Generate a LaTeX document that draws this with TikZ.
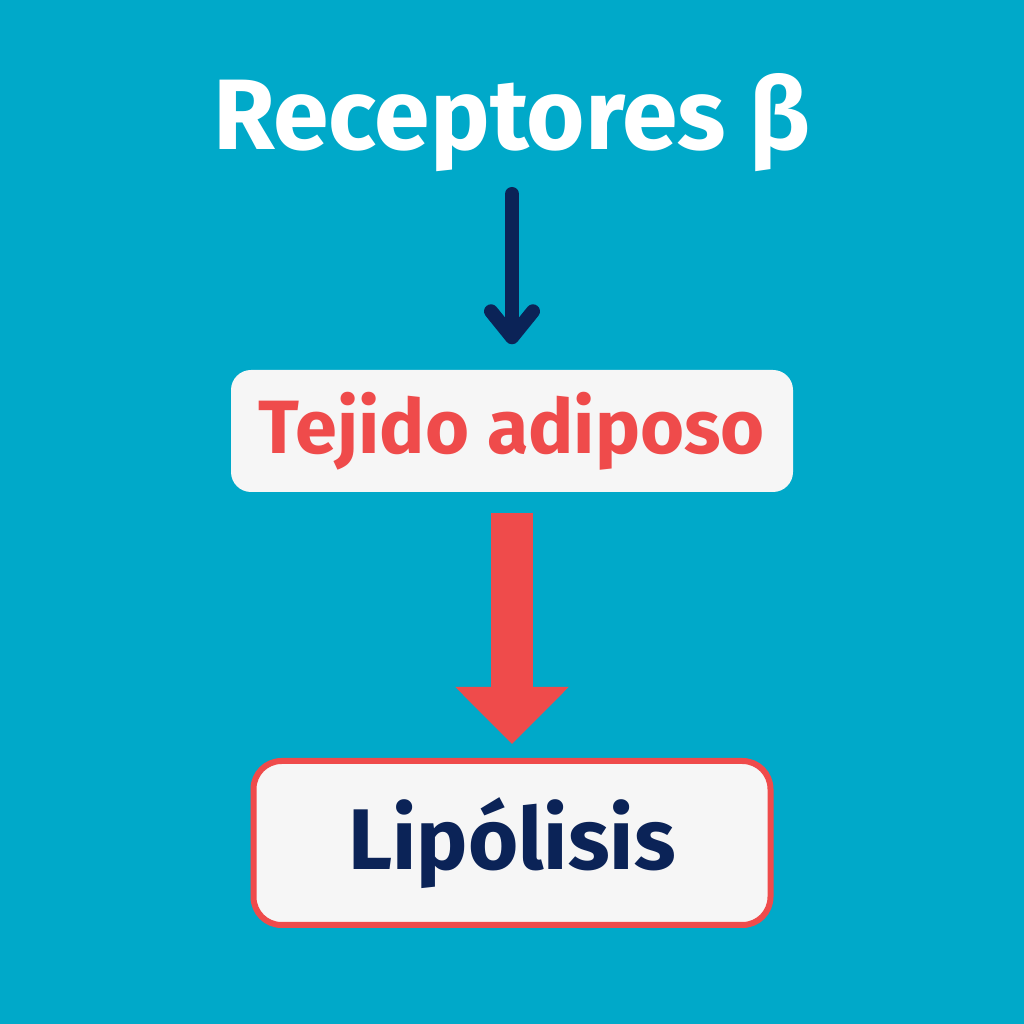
\documentclass[tikz,border=0pt]{standalone}
\usepackage{fontspec}
\setmainfont{Fira Sans}
\usetikzlibrary{arrows.meta}

\definecolor{bgteal}{HTML}{00A9C9}
\definecolor{navy}{HTML}{0B2357}
\definecolor{redtone}{HTML}{EF4B4B}
\definecolor{boxgray}{HTML}{F6F6F6}

\begin{document}
\begin{tikzpicture}[
  box/.style={rounded corners=0.2cm, fill=boxgray, inner sep=0pt},
  thin arrow/.style={navy, line width=0.14cm, line cap=round,
    -{Straight Barb[round, length=0.26cm, width=0.42cm]}},
  block arrow/.style={redtone, line width=0.42cm,
    -{Triangle[length=0.57cm, width=1.1cm]}}
]
\fill[bgteal] (0,0) rectangle (10.24,10.24);
\useasboundingbox (0,0) rectangle (10.24,10.24);
\node[anchor=south, inner sep=0pt, text depth=0pt, text=white,
  font=\fontsize{28.5}{34}\selectfont\bfseries] (title) at (5.12,8.74) {Receptores β};
\node[box, minimum width=5.62cm, minimum height=1.22cm, text=redtone,
  font=\fontsize{21.5}{26}\selectfont\bfseries] (tejido) at (5.12,5.93) {Tejido adiposo};
\node[box, draw=redtone, line width=0.06cm, rounded corners=0.28cm,
  minimum width=5.17cm, minimum height=1.64cm, text=navy,
  font=\fontsize{24.5}{29}\selectfont\bfseries] (lipolisis) at (5.12,1.81) {Lipólisis};
\draw[thin arrow, shorten <=0.44cm, shorten >=0.25cm] (title) -- (tejido);
\draw[block arrow, shorten <=0.2cm, shorten >=0.14cm] (tejido) -- (lipolisis);
\end{tikzpicture}
\end{document}
